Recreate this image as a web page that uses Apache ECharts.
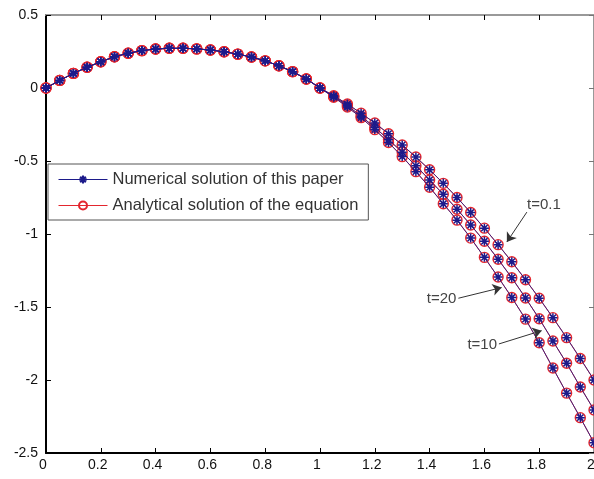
<!DOCTYPE html>
<html>
<head>
<meta charset="utf-8">
<script src="https://cdn.jsdelivr.net/npm/echarts@6/dist/echarts.min.js"></script>
<style>
  html, body { margin: 0; padding: 0; background: #fff; }
  #chart { width: 594px; height: 479px; }
</style>
</head>
<body>
<div id="chart"></div>
<script>
const xValues = [
  0, 0.05, 0.1, 0.15, 0.2, 0.25, 0.3, 0.35, 0.4, 0.45, 0.5, 0.55, 0.6, 0.65, 0.7, 0.75, 0.8, 0.85, 0.9, 0.95, 1,
  1.05, 1.1, 1.15, 1.2, 1.25, 1.3, 1.35, 1.4, 1.45, 1.5, 1.55, 1.6, 1.65, 1.7, 1.75, 1.8, 1.85, 1.9, 1.95, 2,
];

// t = 0.1
const uT01 = [
  0, 0.052, 0.1, 0.142, 0.18, 0.214, 0.238, 0.256, 0.267, 0.272, 0.272, 0.268, 0.26, 0.248, 0.232, 0.212, 0.186, 0.152, 0.112, 0.062, 0,
  -0.053, -0.11, -0.173, -0.24, -0.313, -0.39, -0.473, -0.56, -0.653, -0.75, -0.853, -0.96, -1.073, -1.19, -1.313, -1.44, -1.573, -1.71, -1.853, -2.0,
];

// t = 20
const uT20 = [
  0, 0.052, 0.1, 0.142, 0.18, 0.214, 0.238, 0.256, 0.267, 0.272, 0.272, 0.268, 0.26, 0.248, 0.232, 0.212, 0.186, 0.152, 0.112, 0.062, 0,
  -0.058, -0.12, -0.193, -0.27, -0.353, -0.44, -0.533, -0.63, -0.728, -0.83, -0.938, -1.05, -1.173, -1.3, -1.438, -1.58, -1.733, -1.885, -2.048, -2.205,
];

// t = 10
const uT10 = [
  0, 0.052, 0.1, 0.142, 0.18, 0.214, 0.238, 0.256, 0.267, 0.272, 0.272, 0.268, 0.26, 0.248, 0.232, 0.212, 0.186, 0.152, 0.112, 0.062, 0,
  -0.063, -0.13, -0.203, -0.285, -0.373, -0.47, -0.573, -0.68, -0.793, -0.905, -1.028, -1.16, -1.295, -1.435, -1.583, -1.745, -1.918, -2.09, -2.258, -2.43,
];

const curves = [uT01, uT20, uT10];
const NUM_NAME = "Numerical solution of this paper";
const ANA_NAME = "Analytical solution of the equation";

// arrow annotations (data coordinates)
const arrowLabels = ["t=0.1", "t=20", "t=10"];
const arrowStarts = [[1.755, -0.85], [1.505, -1.44], [1.653, -1.753]];
const arrowEnds = [[1.682, -1.055], [1.663, -1.367], [1.809, -1.662]];
const arrowLabelShift = [[16, 2], [0, 0], [0, 0]];

const STAR = "path://M0,-10L0,10M-10,0L10,0M-7,-7L7,7M-7,7L7,-7";
const BLUE = "#1c1a8a";
const RED = "#e3262e";
const FONT = "Arial, 'Liberation Sans', sans-serif";

const toPairs = (ys) => xValues.map((x, i) => [x, ys[i]]);

const series = [];
curves.forEach((ys) => {
  series.push({
    name: ANA_NAME,
    type: "line",
    data: toPairs(ys),
    z: 2,
    symbol: "circle",
    symbolSize: 10,
    showAllSymbol: true,
    lineStyle: { color: RED, width: 1 },
    itemStyle: { color: "rgba(0,0,0,0)", borderColor: RED, borderWidth: 1.4 },
    animation: false,
  });
});
curves.forEach((ys) => {
  series.push({
    name: NUM_NAME,
    type: "line",
    data: toPairs(ys),
    z: 3,
    symbol: STAR,
    symbolSize: 9,
    showAllSymbol: true,
    lineStyle: { color: BLUE, width: 0.8 },
    itemStyle: { color: BLUE, borderColor: BLUE, borderWidth: 1.5 },
    animation: false,
  });
});

// annotation arrows
series.push({
  type: "line",
  data: [],
  silent: true,
  animation: false,
  markLine: {
    silent: true,
    animation: false,
    symbol: ["none", "arrow"],
    symbolSize: 9,
    lineStyle: { color: "#333", width: 1, type: "solid" },
    label: {
      show: true,
      position: "start",
      distance: 2,
      color: "#444",
      fontSize: 15,
      fontFamily: FONT,
      formatter: (p) => p.name,
    },
    emphasis: { disabled: true },
    data: arrowLabels.map((lab, i) => [
      { name: lab, coord: arrowStarts[i], label: { offset: arrowLabelShift[i] } },
      { coord: arrowEnds[i] },
    ]),
  },
});

const chart = echarts.init(document.getElementById("chart"), null, { renderer: "canvas" });
chart.setOption({
  animation: false,
  backgroundColor: "#fff",
  grid: { left: 46, right: 0, top: 15, bottom: 26, containLabel: false, outerBoundsMode: "none" },
  legend: {
    data: [NUM_NAME, ANA_NAME],
    orient: "vertical",
    left: 48,
    top: 164,
    itemWidth: 49,
    itemHeight: 10,
    itemGap: 9,
    padding: [7, 10, 6, 10],
    borderColor: "#555",
    borderWidth: 1,
    backgroundColor: "#fff",
    lineStyle: { width: 1 },
    textStyle: { color: "#333", fontSize: 16.5, fontFamily: FONT },
    selectedMode: false,
  },
  xAxis: [
    {
      type: "value",
      min: 0,
      max: 2,
      interval: 0.2,
      position: "bottom",
      axisLine: { onZero: false, lineStyle: { color: "#000", width: 2 } },
      axisTick: { inside: true, length: 5, lineStyle: { color: "#000" } },
      axisLabel: { color: "#111", fontSize: 14, fontFamily: FONT, margin: 5, padding: [0, 6, 0, 0] },
      splitLine: { show: false },
    },
    {
      type: "value",
      min: 0,
      max: 2,
      interval: 0.2,
      position: "top",
      axisLine: { onZero: false, lineStyle: { color: "#999", width: 2 } },
      axisTick: { inside: true, length: 5, lineStyle: { color: "#000" } },
      axisLabel: { show: false },
      splitLine: { show: false },
    },
  ],
  yAxis: [
    {
      type: "value",
      min: -2.5,
      max: 0.5,
      interval: 0.5,
      position: "left",
      axisLine: { show: true, onZero: false, lineStyle: { color: "#000", width: 2 } },
      axisTick: { show: true, inside: true, length: 5, lineStyle: { color: "#000" } },
      axisLabel: { color: "#111", fontSize: 14, fontFamily: FONT, margin: 8 },
      splitLine: { show: false },
    },
    {
      type: "value",
      min: -2.5,
      max: 0.5,
      interval: 0.5,
      position: "right",
      axisLine: { show: true, onZero: false, lineStyle: { color: "#999", width: 2 } },
      axisTick: { show: true, inside: true, length: 5, lineStyle: { color: "#777" } },
      axisLabel: { show: false },
      splitLine: { show: false },
    },
  ],
  series: series,
});
</script>
</body>
</html>
